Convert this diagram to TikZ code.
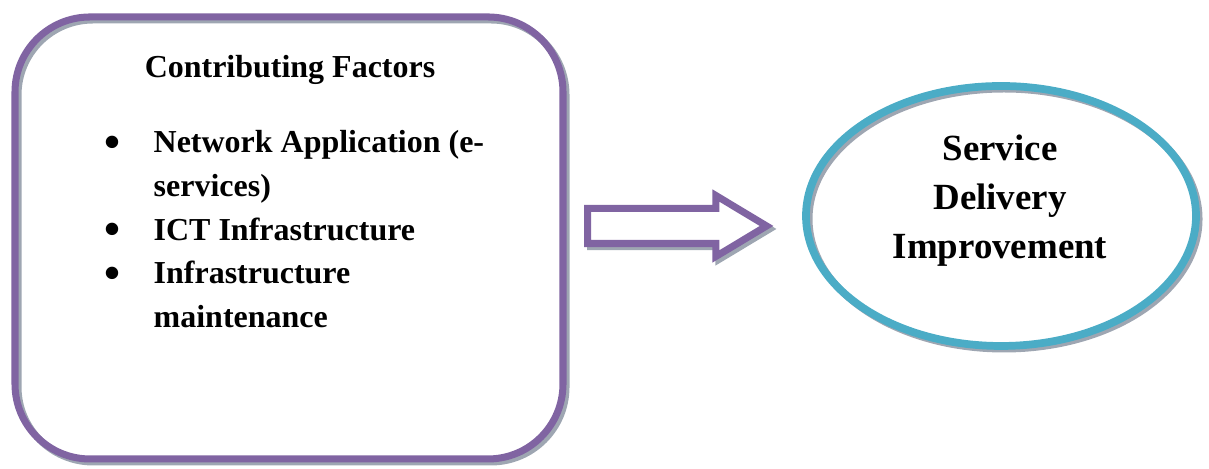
\documentclass[tikz,border=0pt]{standalone}
\usepackage{fontspec}
\setmainfont{Liberation Serif}
\usetikzlibrary{shapes.geometric,shapes.arrows}
\definecolor{plum}{HTML}{8064A2}
\definecolor{skyteal}{HTML}{4BACC6}
\definecolor{shade}{HTML}{9EA6B2}
\newcommand{\bitem}{\makebox[0.49cm][l]{\raisebox{-1.3pt}{\fontsize{13}{13}\selectfont\textbullet}}}
\begin{document}
\begin{tikzpicture}[every node/.style={font=\bfseries\fontsize{9.1}{12.4}\selectfont}]
\tikzstyle{shadowed}=[preaction={draw=shade,line width=2pt,transform canvas={shift={(0.03,-0.03)}}}]
\tikzstyle{bul}=[inner sep=0,align=left,anchor=north west]
\useasboundingbox (0,0) rectangle (12.09,4.69);
\node[draw=plum,line width=2pt,rounded corners=0.75cm,minimum width=5.48cm,minimum height=4.42cm,shadowed] (factors) at (2.89,2.31) {};
\node (title) at (2.90,3.99) {Contributing Factors};
\node[bul] (items) at (1.04,3.39) {\bitem Network Application (e-\\
\hspace*{0.49cm}services)\\
\bitem ICT Infrastructure\\
\bitem Infrastructure\\
\hspace*{0.49cm}maintenance};
\node[single arrow,draw=plum,line width=2pt,fill=white,minimum height=1.79cm,single arrow head extend=0.13cm,inner sep=0.14cm,single arrow tip angle=62,shadowed] (arrow) at (6.625,2.43) {};
\node[ellipse,draw=skyteal,line width=2.2pt,minimum width=3.90cm,minimum height=2.60cm,inner sep=0,shadowed] (sdi) at (10.01,2.53) {};
\node[font=\bfseries\fontsize{10.5}{14}\selectfont,align=center] (sdilabel) at (10.00,2.685) {Service\\Delivery\\Improvement};
\end{tikzpicture}
\end{document}
